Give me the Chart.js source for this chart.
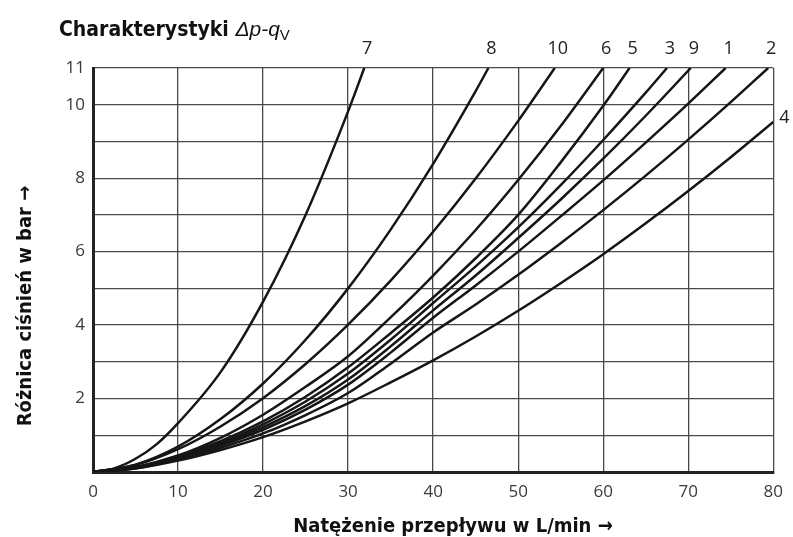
<!DOCTYPE html>
<html>
<head>
<meta charset="utf-8">
<script src="https://cdn.jsdelivr.net/npm/chart.js@4.4.1/dist/chart.umd.min.js"></script>
<style>
  html, body { margin: 0; padding: 0; background: #fff; }
  #wrap { position: relative; width: 793px; height: 537px; }
  canvas { display: block; }
</style>
</head>
<body>
<div id="wrap"><canvas id="c" width="793" height="537"></canvas></div>
<script>
// ---- data ----
const seriesNames = ['7', '8', '10', '6', '5', '3', '9', '1', '2', '4'];

const q7  = [0, 2.5, 5, 7.5, 10, 15, 20, 25, 30, 31.9];
const dp7 = [0, 0.1, 0.36, 0.76, 1.33, 2.72, 4.64, 7.0, 9.82, 11];

const q8  = [0, 5, 10, 15, 20, 25, 30, 35, 40, 45, 46.5];
const dp8 = [0, 0.2, 0.69, 1.44, 2.41, 3.6, 5.0, 6.6, 8.39, 10.37, 11];

const q10  = [0, 5, 10, 15, 20, 25, 30, 35, 40, 45, 50, 54.3];
const dp10 = [0, 0.19, 0.62, 1.24, 2.01, 2.94, 4.01, 5.21, 6.54, 7.99, 9.56, 11];

const q6  = [0, 5, 10, 15, 20, 25, 30, 35, 40, 45, 50, 55, 60];
const dp6 = [0, 0.14, 0.45, 0.93, 1.56, 2.32, 3.15, 4.21, 5.35, 6.59, 7.95, 9.42, 11];

const q5  = [0, 5, 10, 15, 20, 25, 30, 35, 40, 45, 50, 55, 60, 63.1];
const dp5 = [0, 0.13, 0.42, 0.84, 1.38, 2.05, 2.85, 3.78, 4.75, 5.82, 7.0, 8.43, 9.97, 11];

const q3  = [0, 5, 10, 15, 20, 25, 30, 35, 40, 45, 50, 55, 60, 65, 67.5];
const dp3 = [0, 0.12, 0.4, 0.79, 1.3, 1.92, 2.68, 3.6, 4.6, 5.6, 6.66, 7.81, 9.04, 10.33, 11];

const q9  = [0, 5, 10, 15, 20, 25, 30, 35, 40, 45, 50, 55, 60, 65, 70.3];
const dp9 = [0, 0.12, 0.38, 0.75, 1.22, 1.8, 2.52, 3.42, 4.4, 5.35, 6.37, 7.42, 8.53, 9.7, 11];

const q1  = [0, 5, 10, 15, 20, 25, 30, 35, 40, 45, 50, 55, 60, 65, 70, 74.4];
const dp1 = [0, 0.11, 0.37, 0.72, 1.15, 1.7, 2.38, 3.25, 4.2, 5.08, 6.0, 6.96, 7.94, 8.97, 10.03, 11];

const q2  = [0, 5, 10, 15, 20, 25, 30, 35, 40, 45, 50, 55, 60, 65, 70, 75, 79.4];
const dp2 = [0, 0.1, 0.34, 0.66, 1.05, 1.55, 2.15, 2.95, 3.8, 4.56, 5.37, 6.23, 7.13, 8.07, 9.05, 10.07, 11];

const q4  = [0, 5, 10, 15, 20, 25, 30, 35, 40, 45, 50, 55, 60, 65, 70, 75, 80];
const dp4 = [0, 0.098, 0.31, 0.6, 0.95, 1.38, 1.87, 2.44, 3.04, 3.69, 4.39, 5.14, 5.93, 6.77, 7.65, 8.57, 9.53];

const xTickLabels = ['0', '10', '20', '30', '40', '50', '60', '70', '80'];
const yTickLabels = ['', '', '2', '', '4', '', '6', '', '8', '', '10', '11'];

const titleMain = 'Charakterystyki ';
const titleSym = '\u0394p-q';
const titleSub = 'V';
const xTitle = 'Natężenie przepływu w L/min \u2192';
const yTitle = 'Różnica ciśnień w bar \u2192';

// ---- build datasets ----
const allQ  = [q7, q8, q10, q6, q5, q3, q9, q1, q2, q4];
const allDp = [dp7, dp8, dp10, dp6, dp5, dp3, dp9, dp1, dp2, dp4];

const datasets = seriesNames.map((name, k) => ({
  label: name,
  data: allQ[k].map((x, i) => ({ x: x, y: allDp[k][i] })),
  borderColor: '#161616',
  borderWidth: 2.5,
  pointRadius: 0,
  fill: false,
  cubicInterpolationMode: 'monotone'
}));

const boldNarrow = '"Liberation Sans Narrow", "DejaVu Sans Condensed", "Liberation Sans", sans-serif';
const tickFamily = '"Open Sans", "Liberation Sans", sans-serif';

const textPlugin = {
  id: 'texts',
  afterDraw(chart) {
    const ctx = chart.ctx;
    const xs = chart.scales.x, ys = chart.scales.y;
    const area = chart.chartArea;
    ctx.save();
    ctx.fillStyle = '#111';
    // title
    ctx.textBaseline = 'alphabetic';
    ctx.textAlign = 'left';
    ctx.font = 'bold 21px ' + boldNarrow;
    let tx = 59;
    ctx.fillText(titleMain, tx, 36);
    tx += ctx.measureText(titleMain).width;
    ctx.font = 'italic 21px "Liberation Sans", sans-serif';
    ctx.fillText(titleSym, tx, 36);
    tx += ctx.measureText(titleSym).width;
    ctx.font = '15px "Liberation Sans", sans-serif';
    ctx.fillText(titleSub, tx, 40);

    // x axis title
    ctx.font = 'bold 20px ' + boldNarrow;
    ctx.textAlign = 'center';
    ctx.fillText(xTitle, 453, 532);

    // y axis title
    ctx.save();
    ctx.translate(31, 306);
    ctx.rotate(-Math.PI / 2);
    ctx.textAlign = 'center';
    ctx.fillText(yTitle, 0, 0);
    ctx.restore();

    // curve labels
    ctx.font = '18px ' + tickFamily;
    ctx.fillStyle = '#222';
    ctx.textAlign = 'center';
    ctx.textBaseline = 'middle';
    seriesNames.forEach((name, k) => {
      const q = allQ[k], dp = allDp[k];
      const lastX = q[q.length - 1], lastY = dp[dp.length - 1];
      if (name === '4') {
        ctx.textAlign = 'left';
        ctx.fillText(name, area.right + 6, ys.getPixelForValue(lastY) - 4);
        ctx.textAlign = 'center';
      } else {
        ctx.fillText(name, xs.getPixelForValue(lastX) + 3, area.top - 19);
      }
    });
    ctx.restore();
  }
};

new Chart(document.getElementById('c'), {
  type: 'line',
  data: { datasets },
  options: {
    responsive: false,
    animation: false,
    events: [],
    layout: { padding: { top: 68, right: 17, left: 0, bottom: 0 } },
    plugins: { legend: { display: false }, tooltip: { enabled: false }, title: { display: false } },
    scales: {
      x: {
        type: 'linear', min: 0, max: 80,
        ticks: {
          stepSize: 10, padding: 10, color: '#3a3a3a', maxRotation: 0,
          font: { family: tickFamily, size: 17 },
          callback: (v) => xTickLabels[v / 10]
        },
        grid: { color: '#4a4a4a', lineWidth: 1.3, drawTicks: false },
        border: { display: true, color: '#222', width: 3 },
        afterFit: (s) => { s.height = 65; }
      },
      y: {
        type: 'linear', min: 0, max: 11,
        ticks: {
          stepSize: 1, padding: 8, color: '#3a3a3a',
          font: { family: tickFamily, size: 17 },
          callback: (v) => yTickLabels[v]
        },
        grid: { color: '#4a4a4a', lineWidth: 1.3, drawTicks: false },
        border: { display: true, color: '#222', width: 3 },
        afterFit: (s) => { s.width = 93; }
      }
    }
  },
  plugins: [textPlugin]
});
</script>
</body>
</html>
